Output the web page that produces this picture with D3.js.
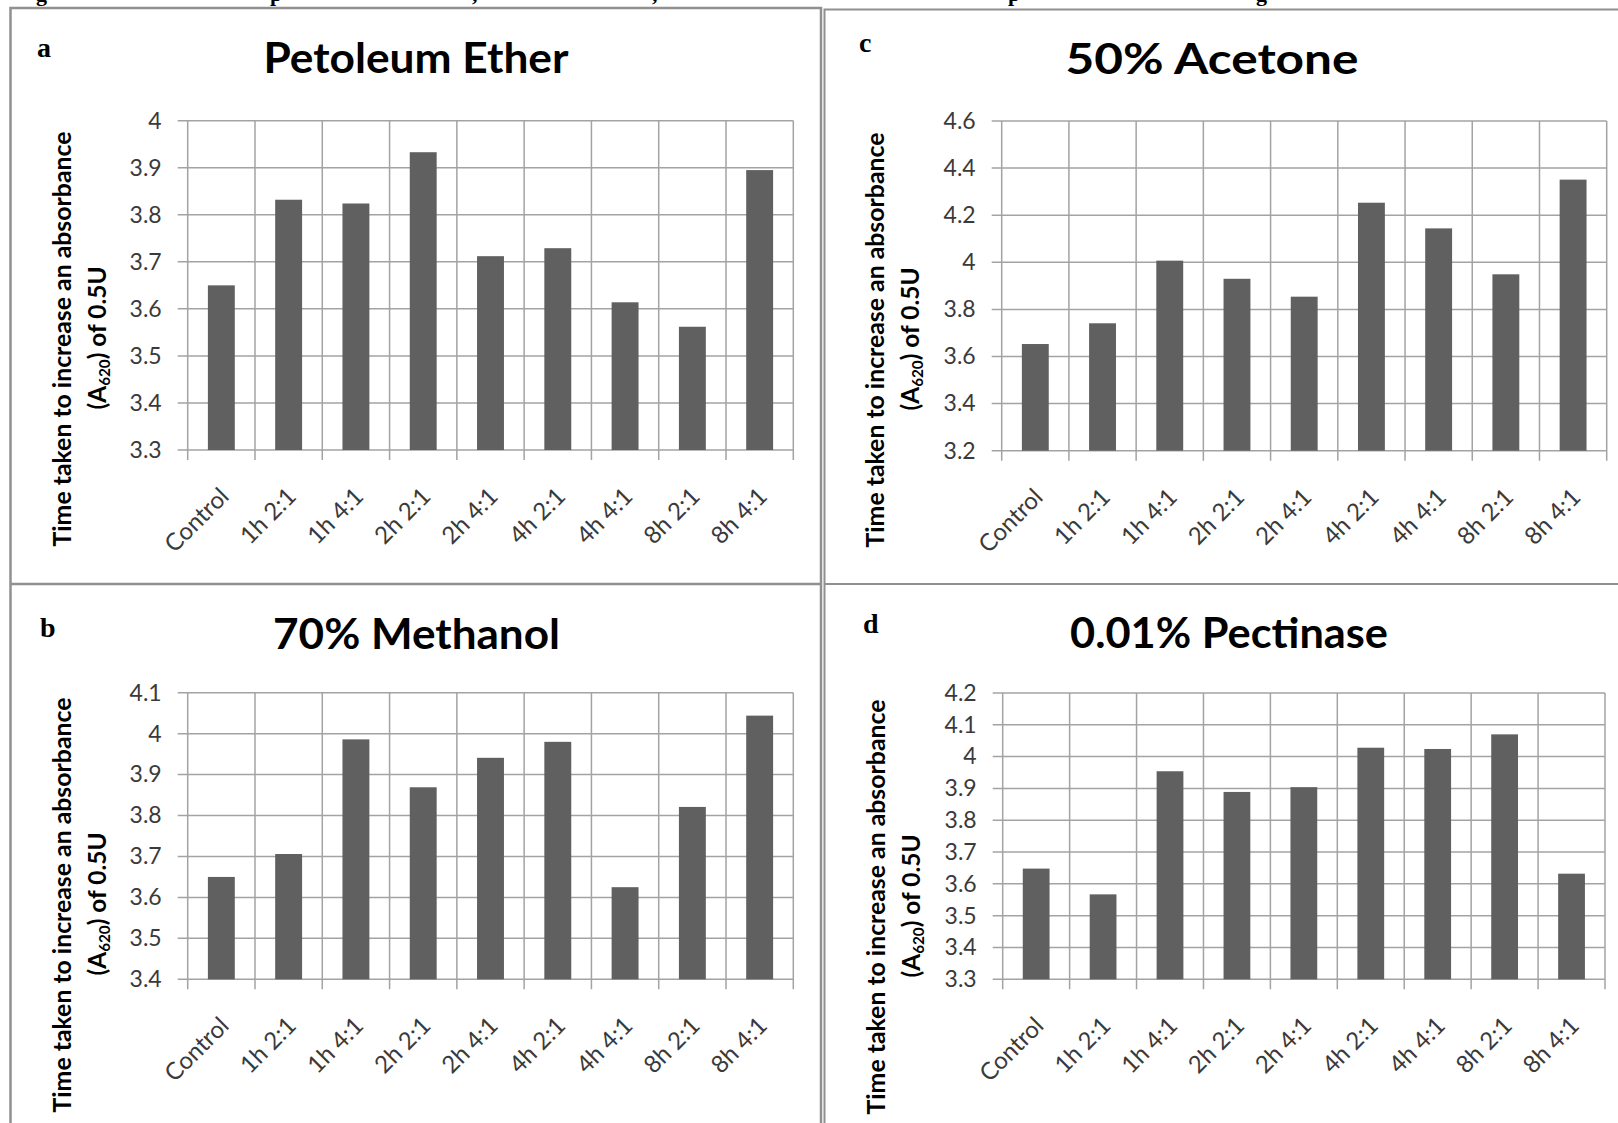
<!DOCTYPE html>
<html>
<head>
<meta charset="utf-8">
<script src="https://cdn.jsdelivr.net/npm/d3@7"></script>
<style>
  body { margin: 0; background: #fff; }
  svg { display: block; }
</style>
</head>
<body>
<script>
// categories shared by the four panels
var categories = ['Control', '1h 2:1', '1h 4:1', '2h 2:1', '2h 4:1', '4h 2:1', '4h 4:1', '8h 2:1', '8h 4:1'];

// values
var petroleumEther = [3.650, 3.832, 3.824, 3.933, 3.712, 3.729, 3.614, 3.562, 3.895];
var methanol70     = [3.650, 3.706, 3.986, 3.869, 3.941, 3.980, 3.625, 3.821, 4.044];
var acetone50      = [3.653, 3.741, 4.007, 3.930, 3.854, 4.253, 4.144, 3.949, 4.351];
var pectinase      = [3.648, 3.567, 3.954, 3.889, 3.904, 4.028, 4.024, 4.070, 3.632];

// y ticks
var ticksA = [3.3, 3.4, 3.5, 3.6, 3.7, 3.8, 3.9, 4.0];
var labelsA = ['3.3', '3.4', '3.5', '3.6', '3.7', '3.8', '3.9', '4'];
var ticksB = [3.4, 3.5, 3.6, 3.7, 3.8, 3.9, 4.0, 4.1];
var labelsB = ['3.4', '3.5', '3.6', '3.7', '3.8', '3.9', '4', '4.1'];
var ticksC = [3.2, 3.4, 3.6, 3.8, 4.0, 4.2, 4.4, 4.6];
var labelsC = ['3.2', '3.4', '3.6', '3.8', '4', '4.2', '4.4', '4.6'];
var ticksD = [3.3, 3.4, 3.5, 3.6, 3.7, 3.8, 3.9, 4.0, 4.1, 4.2];
var labelsD = ['3.3', '3.4', '3.5', '3.6', '3.7', '3.8', '3.9', '4', '4.1', '4.2'];

var titles = ['Petoleum Ether', '70% Methanol', '50% Acetone', '0.01% Pectinase'];
var letters = ['a', 'b', 'c', 'd'];

// bits of the caption line cut off at the very top
var captionBits = [['g', 36], ['p', 270], [',', 472], [',', 652], ['p', 1008], ['g', 1256]];

var W = 1618, H = 1123;
var gridColor = '#a3a3a3', barColor = '#606060', frameColor = '#909090';

var svg = d3.select('body').append('svg')
  .attr('width', W)
  .attr('height', H);

svg.selectAll('.cap').data(captionBits).enter().append('text')
  .attr('x', function(d) { return d[1]; })
  .attr('y', 0.5)
  .attr('font-family', 'Liberation Serif')
  .attr('font-weight', 'bold')
  .attr('font-size', 22)
  .text(function(d) { return d[0]; });

// frames
svg.append('path')
  .attr('d', 'M10.5,' + H + 'V8H821V' + H + 'M10.5,584H821')
  .attr('fill', 'none').attr('stroke', frameColor).attr('stroke-width', 2.5);
svg.append('path')
  .attr('d', 'M' + W + ',9.5H824.5V' + H + 'M824.5,584H' + W)
  .attr('fill', 'none').attr('stroke', frameColor).attr('stroke-width', 2);

// layout of each panel
var panels = [
  { values: petroleumEther, ticks: ticksA, labels: labelsA, x0: 187.7, x1: 793.3, y0: 120.7, y1: 450,
    letterX: 37, letterY: 57, titleX: 416, titleY: 73, titleW: 305, atY: 339, l1: 70.5, l2: 106 },
  { values: methanol70, ticks: ticksB, labels: labelsB, x0: 187.7, x1: 793.3, y0: 692.7, y1: 979.3,
    letterX: 40, letterY: 637, titleX: 416.5, titleY: 649, titleW: 287, atY: 905, l1: 71, l2: 106 },
  { values: acetone50, ticks: ticksC, labels: labelsC, x0: 1001.7, x1: 1606.7, y0: 121, y1: 450.7,
    letterX: 859, letterY: 52, titleX: 1212, titleY: 74, titleW: 293, atY: 340, l1: 883.5, l2: 919 },
  { values: pectinase, ticks: ticksD, labels: labelsD, x0: 1002.7, x1: 1605, y0: 693, y1: 979.3,
    letterX: 863, letterY: 633, titleX: 1229, titleY: 648, titleW: 318, atY: 907, l1: 885, l2: 920 }
];

panels.forEach(function(p, k) {
  var g = svg.append('g');

  var x = d3.scaleBand().domain(categories)
    .range([p.x0, p.x1]).paddingInner(0.6).paddingOuter(0.3);
  var y = d3.scaleLinear()
    .domain([p.ticks[0], p.ticks[p.ticks.length - 1]])
    .range([p.y1, p.y0]);

  // horizontal grid with the little outer tick
  g.selectAll('.hg').data(p.ticks).enter().append('line')
    .attr('x1', p.x0 - 10).attr('x2', p.x1)
    .attr('y1', function(d) { return y(d); })
    .attr('y2', function(d) { return y(d); })
    .attr('stroke', gridColor).attr('stroke-width', 1.5);

  // vertical grid on category boundaries
  var bounds = d3.range(categories.length + 1).map(function(i) { return p.x0 + i * x.step(); });
  g.selectAll('.vg').data(bounds).enter().append('line')
    .attr('x1', function(d) { return d; })
    .attr('x2', function(d) { return d; })
    .attr('y1', p.y0).attr('y2', p.y1 + 10)
    .attr('stroke', gridColor).attr('stroke-width', 1.5);

  g.selectAll('.bar').data(p.values).enter().append('rect')
    .attr('x', function(d, i) { return x(categories[i]); })
    .attr('y', function(d) { return y(d); })
    .attr('width', x.bandwidth())
    .attr('height', function(d) { return p.y1 - y(d); })
    .attr('fill', barColor);

  var yAxis = g.append('g')
    .attr('transform', 'translate(' + p.x0 + ',0)')
    .call(d3.axisLeft(y).tickValues(p.ticks)
      .tickFormat(function(d, i) { return p.labels[i]; })
      .tickSize(0).tickPadding(26));
  yAxis.select('.domain').remove();
  yAxis.selectAll('text')
    .attr('font-family', 'Lato').attr('font-size', 23).attr('fill', '#3a3a3a');

  var xAxis = g.append('g')
    .attr('transform', 'translate(0,' + p.y1 + ')')
    .call(d3.axisBottom(x).tickSize(0));
  xAxis.select('.domain').remove();
  xAxis.selectAll('text')
    .attr('x', 0).attr('y', 0).attr('dy', '0.35em')
    .attr('text-anchor', 'end')
    .attr('transform', 'translate(3,42) rotate(-45)')
    .attr('font-family', 'Lato').attr('font-size', 24).attr('fill', '#3a3a3a');

  // title and panel letter
  g.append('text')
    .attr('x', p.titleX).attr('y', p.titleY)
    .attr('text-anchor', 'middle')
    .attr('font-family', 'Lato').attr('font-weight', 'bold').attr('font-size', 42)
    .attr('textLength', p.titleW).attr('lengthAdjust', 'spacingAndGlyphs')
    .text(titles[k]);

  g.append('text')
    .attr('x', p.letterX).attr('y', p.letterY)
    .attr('font-family', 'Liberation Serif').attr('font-weight', 'bold').attr('font-size', 28)
    .text(letters[k]);

  // axis title, two lines
  g.append('text')
    .attr('transform', 'translate(' + p.l1 + ',' + p.atY + ') rotate(-90)')
    .attr('text-anchor', 'middle')
    .attr('font-family', 'Lato').attr('font-weight', 'bold').attr('font-size', 24)
    .attr('textLength', 415).attr('lengthAdjust', 'spacingAndGlyphs')
    .text('Time taken to increase an absorbance');

  var t2 = g.append('text')
    .attr('transform', 'translate(' + p.l2 + ',' + (p.atY - 1) + ') rotate(-90)')
    .attr('text-anchor', 'middle')
    .attr('font-family', 'Lato').attr('font-weight', 'bold').attr('font-size', 24)
    .attr('textLength', 143).attr('lengthAdjust', 'spacingAndGlyphs');
  t2.append('tspan').text('(A');
  t2.append('tspan').attr('font-size', 15).attr('dy', 4).text('620');
  t2.append('tspan').attr('dy', -4).text(') of 0.5U');
});
</script>
</body>
</html>
